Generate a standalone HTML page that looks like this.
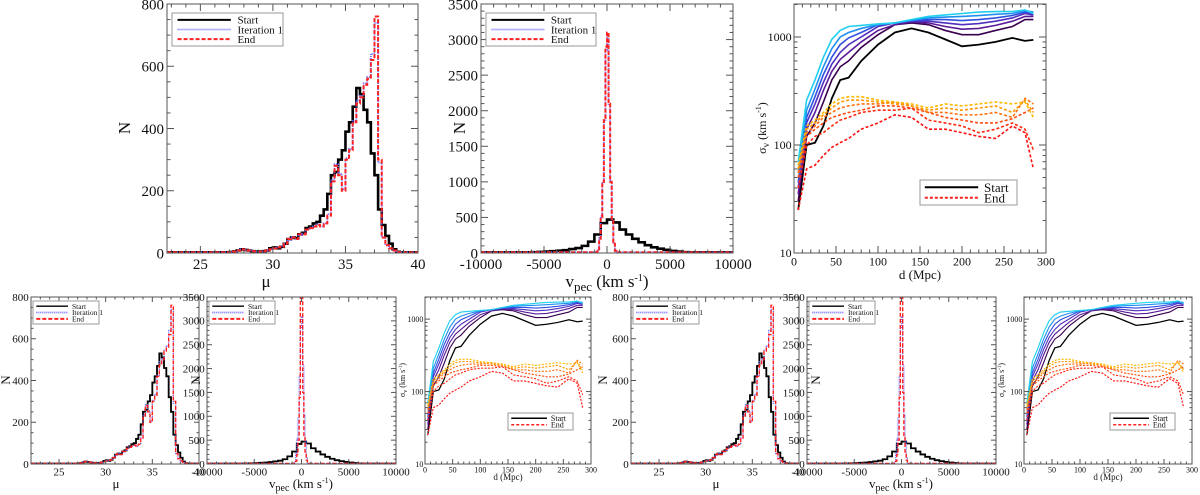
<!DOCTYPE html>
<html><head><meta charset="utf-8"><style>
body{margin:0;background:#fff}
svg{display:block;font-family:"Liberation Serif",serif}
</style></head><body>
<svg id="fig" width="1200" height="495" viewBox="0 0 1200 495"></svg>
<script>
// ---- data: mu histograms (bins of 0.25 starting at 27.0) ----
const muBinStart = 27.0;
const muBinWidth = 0.25;
const muStart = [3,5,8,12,10,8,6,5,5,6,8,15,18,15,20,30,45,50,48,60,65,80,85,95,100,120,140,190,250,260,300,330,390,420,470,530,510,460,420,320,250,140,90,55,30,12,4,0];
const muIter1 = [3,5,8,12,10,8,6,5,5,6,8,12,15,18,22,30,42,52,45,58,62,75,82,85,92,85,95,125,235,285,255,205,305,335,425,490,505,545,565,640,740,290,50,25,15,8,3,0];
const muEnd   = [3,5,8,12,10,8,6,5,5,6,8,12,15,18,20,30,45,50,45,60,60,75,80,85,90,85,95,120,230,280,250,200,300,330,420,480,500,540,560,620,760,300,50,25,15,8,3,0];
// ---- data: vpec histograms ----
const vStartBinStart = -10000;
const vStartBinWidth = 500;
const vStart = [2,3,3,4,5,6,8,10,12,15,20,25,32,40,55,70,100,160,260,420,470,430,330,260,200,150,110,80,60,45,30,20,12,8,5,4,3,2,2,1];
const vEndBinStart = -1000;
const vEndBinWidth = 125;
const vEnd   = [0,5,30,200,500,1000,1900,2900,3100,2100,1000,450,150,30,5,0];
const vIter1 = [0,6,35,210,520,980,1850,2850,3080,2080,1020,460,140,28,4,0];
const vEndB  = [0,3,10,60,200,500,1400,3600,3600,1500,600,250,80,15,3,0];
// ---- data: sigma_v vs distance ----
const dVals = [5,15,25,35,45,55,65,80,100,120,140,160,180,200,220,240,260,275,285];
const sigStart = [25,100,105,150,270,400,420,600,850,1100,1200,1100,950,820,850,900,980,920,940];
const sigIterSolid = [
 [30,120,160,250,400,530,600,800,1050,1300,1350,1300,1150,1050,1050,1150,1250,1450,1450],
 [35,140,200,320,480,620,720,900,1150,1300,1380,1350,1250,1180,1200,1280,1400,1550,1550],
 [40,160,240,380,560,720,850,1000,1250,1350,1400,1400,1350,1300,1330,1400,1500,1650,1600],
 [45,180,280,450,650,850,980,1100,1300,1350,1420,1450,1450,1420,1450,1500,1580,1700,1650],
 [55,210,330,530,780,1000,1100,1200,1300,1350,1430,1500,1530,1550,1580,1620,1650,1750,1700],
 [70,260,400,650,950,1150,1250,1280,1320,1350,1450,1550,1600,1650,1700,1720,1720,1780,1650]
];
const sigIterDashed = [
 [25,60,65,80,95,105,115,140,160,190,180,140,140,130,120,115,150,130,60],
 [40,100,120,130,150,170,180,200,210,210,220,170,160,150,130,140,160,140,90],
 [50,120,140,160,180,190,200,210,230,230,220,200,180,170,160,160,175,200,220],
 [55,130,150,180,200,220,230,240,240,250,230,200,200,190,190,200,180,270,240],
 [60,140,160,190,220,250,260,260,250,240,230,210,220,210,220,230,200,260,200],
 [65,150,170,200,240,270,280,280,260,250,240,220,240,230,240,250,240,250,180]
];
const solidColors = ['#3a0050','#5a1a9a','#5030c0','#3050e0','#2090f0','#20d0f0'];
const dashColors = ['#ff1010','#ff2a10','#ff4a10','#ff7010','#ff9800','#ffb800'];
const muTicks = [25,30,35,40];
const muYTicks = [0,200,400,600,800];
const vTicks = [-10000,-5000,0,5000,10000];
const vYTicks = [0,500,1000,1500,2000,2500,3000,3500];
const dTicks = [0,50,100,150,200,250,300];
const sYTicks = [10,100,1000];

const NS='http://www.w3.org/2000/svg';
const svg=document.getElementById('fig');
function el(tag,attrs,parent){const e=document.createElementNS(NS,tag);for(const k in attrs)e.setAttribute(k,attrs[k]);(parent||svg).appendChild(e);return e;}
let clipId=0;

function makePanel(P){
  const g=el('g',{});
  
  
  P.g=g;
  P.x=v=>P.l+(v-P.xmin)/(P.xmax-P.xmin)*(P.r-P.l);
  if(P.log){P.y=v=>P.b-(Math.log10(v)-Math.log10(P.ymin))/(Math.log10(P.ymax)-Math.log10(P.ymin))*(P.b-P.t);}
  else P.y=v=>P.b-(v-P.ymin)/(P.ymax-P.ymin)*(P.b-P.t);
  const cid='c'+(clipId++);
  const cp=el('clipPath',{id:cid},g);el('rect',{x:P.l,y:P.t,width:P.r-P.l,height:P.b-P.t},cp);
  P.data=el('g',{'clip-path':'url(#'+cid+')'},g);
  
  
  return P;
}
function frame(P){
  const g=P.g,fs=P.fs,tl=P.tick,sw=P.sw||1;
  const ax=el('g',{stroke:'#555','stroke-width':sw,fill:'none'},g);
  
  
  el('rect',{x:P.l,y:P.t,width:P.r-P.l,height:P.b-P.t},ax);
  const xm=P.xminor;let s=Math.ceil(P.xmin/xm)*xm;
  for(let v=s;v<=P.xmax+1e-9;v+=xm){const X=P.x(v);const major=Math.abs(v/P.xmajor-Math.round(v/P.xmajor))<1e-6;const L=major?tl:tl/2;
    el('line',{x1:X,y1:P.b,x2:X,y2:P.b-L},ax);el('line',{x1:X,y1:P.t,x2:X,y2:P.t+L},ax);}
  P.xt.forEach(v=>{const t=el('text',{x:P.x(v),y:P.b+fs*1.05,'font-size':fs,'text-anchor':'middle',fill:'#111'},g);t.textContent=v;
    });
  if(P.log){
    for(let dec=1;dec<=3;dec++){for(let m=1;m<10;m++){const v=m*Math.pow(10,dec);if(v<P.ymin||v>P.ymax)continue;const Y=P.y(v);const L=m==1?tl:tl/2;
      el('line',{x1:P.l,y1:Y,x2:P.l+L,y2:Y},ax);el('line',{x1:P.r,y1:Y,x2:P.r-L,y2:Y},ax);}}
  } else {
    for(let v=P.ymin;v<=P.ymax+1e-9;v+=P.yminor){const Y=P.y(v);const major=Math.abs(v/P.ymajor-Math.round(v/P.ymajor))<1e-6;const L=major?tl:tl/2;
      el('line',{x1:P.l,y1:Y,x2:P.l+L,y2:Y},ax);el('line',{x1:P.r,y1:Y,x2:P.r-L,y2:Y},ax);}
  }
  P.yt.forEach(v=>{const t=el('text',{x:P.l-fs*0.2,y:P.y(v)+fs*0.35,'font-size':fs,'text-anchor':'end',fill:'#111'},g);t.textContent=v;
    });
}
function stepHist(P,x0,w,vals,style,name){
  const floor=P.ymin+ (P.ymax-P.ymin)*0.003;
  let d=`M${P.x(P.xmin)},${P.y(floor)} H${P.x(x0)}`;
  vals.forEach((v,i)=>{d+=` V${P.y(Math.max(v,floor))} H${P.x(x0+(i+1)*w)}`;});
  d+=` V${P.y(floor)} H${P.x(P.xmax)}`;
  const p=el('path',Object.assign({d:d,fill:'none'},style),P.data);
  
  
}
function line(P,xs,ys,style,name){
  const d=xs.map((x,i)=>(i?'L':'M')+P.x(x)+','+P.y(ys[i])).join(' ');
  const p=el('path',Object.assign({d:d,fill:'none'},style),P.data);
  
  
}
function legend(P,box,entries,fs){
  const g=el('g',{},P.g);
  
  
  el('rect',{x:box[0],y:box[1],width:box[2],height:box[3],fill:'#fff',stroke:'#999','stroke-width':1},g);
  const rowH=(box[3]-4)/entries.length;
  entries.forEach((e,i)=>{const y=box[1]+2+rowH*(i+0.5);
    const ln=el('line',Object.assign({x1:box[0]+box[2]*0.05,x2:box[0]+box[2]*(e.lw||0.53),y1:y,y2:y},e.style),g);
    
    const t=el('text',{x:box[0]+box[2]*((e.lw||0.53)+0.06),y:y+fs*0.35,'font-size':fs,fill:'#111'},g);t.textContent=e.label;
    });
}
function label(txt,x,y,fs,rot,name){
  const t=el('text',{x:x,y:y,'font-size':fs,'text-anchor':'middle',fill:'#111',transform:rot?`rotate(-90 ${x} ${y})`:''});
  
  t.innerHTML=txt;
}
const sStart={stroke:'#000','stroke-width':2.6};
const sIter={stroke:'#6a6aff','stroke-width':1.8,'stroke-dasharray':'1,1'};
const sEnd={stroke:'#ff2020','stroke-width':2,'stroke-dasharray':'4,2'};

function muPanel(name,l,r,t,b,xmin,fs,tick,lbox,lfs,scale){
  const P=makePanel({name,l,r,t,b,xmin,xmax:40,ymin:0,ymax:800,fs,tick,xminor:1,xmajor:5,yminor:50,ymajor:200,xt:muTicks,yt:muYTicks});
  stepHist(P,muBinStart,muBinWidth,muStart,Object.assign({},sStart,{'stroke-width':2.6*scale}),'start-histogram');
  stepHist(P,muBinStart,muBinWidth,muIter1,Object.assign({},sIter,{'stroke-width':1.8*scale}),'iteration1-histogram');
  stepHist(P,muBinStart,muBinWidth,muEnd,Object.assign({},sEnd,{'stroke-width':2*scale}),'end-histogram');
  frame(P);
  legend(P,lbox,[{label:'Start',style:Object.assign({},sStart,{'stroke-width':2*scale})},{label:'Iteration 1',style:sIter},{label:'End',style:sEnd}],lfs);
}
function vPanel(name,l,r,t,b,fs,tick,lbox,lfs,scale,endArr){
  const P=makePanel({name,l,r,t,b,xmin:-10000,xmax:10000,ymin:0,ymax:3500,fs,tick,xminor:1000,xmajor:5000,yminor:100,ymajor:500,xt:vTicks,yt:vYTicks});
  stepHist(P,vStartBinStart,vStartBinWidth,vStart,Object.assign({},sStart,{'stroke-width':2.6*scale}),'start-histogram');
  stepHist(P,vEndBinStart,vEndBinWidth,vIter1,Object.assign({},sIter,{'stroke-width':1.8*scale}),'iteration1-histogram');
  stepHist(P,vEndBinStart,vEndBinWidth,endArr,Object.assign({},sEnd,{'stroke-width':2*scale}),'end-histogram');
  frame(P);
  legend(P,lbox,[{label:'Start',style:Object.assign({},sStart,{'stroke-width':2*scale})},{label:'Iteration 1',style:sIter},{label:'End',style:sEnd}],lfs);
}
function sPanel(name,l,r,t,b,fs,tick,lbox,lfs,scale){
  const P=makePanel({name,l,r,t,b,xmin:0,xmax:300,ymin:10,ymax:2020,log:true,fs,tick,xminor:10,xmajor:50,xt:dTicks,yt:sYTicks});
  line(P,dVals,sigStart,{stroke:'#000','stroke-width':1.8*scale},'start-curve');
  sigIterSolid.forEach((a,i)=>line(P,dVals,a,{stroke:solidColors[i],'stroke-width':1.6*scale},'iteration-curve-'+(i+1)));
  sigIterDashed.forEach((a,i)=>line(P,dVals,a,{stroke:dashColors[i],'stroke-width':1.6*scale,'stroke-dasharray':(3*scale)+','+(2*scale)},'end-curve-'+(i+1)));
  frame(P);
  legend(P,lbox,[{label:'Start',style:{stroke:'#000','stroke-width':2*scale},lw:0.6},{label:'End',style:{stroke:'#ff2020','stroke-width':2*scale,'stroke-dasharray':'3,2'},lw:0.6}],lfs);
}
// top row
muPanel('mu-histogram-top',167,418,4,253,22.7,15,7,[172,13,111,33],11,1);
vPanel('vpec-histogram-top',481,733,4,253,15,7,[486,13,110,33],11,1,vEnd);
sPanel('sigma-distance-top',794,1046,4,253,12,7,[920,180,97,25],13,1);
label('N',130,128,17,true,'y-axis-title');
label('μ',266,287,17,false,'x-axis-title');
label('N',465,128,17,true,'y-axis-title');
label('v<tspan font-size="13" dy="4">pec</tspan><tspan dy="-4"> (km s</tspan><tspan font-size="10" dy="-6">-1</tspan><tspan dy="6">)</tspan>',607,287,17,false,'x-axis-title');
label('σ<tspan font-size="9" dy="3">v</tspan><tspan dy="-3"> (km s</tspan><tspan font-size="8" dy="-5">-1</tspan><tspan dy="5">)</tspan>',766,128,12,true,'y-axis-title');
label('d (Mpc)',920,279,13,false,'x-axis-title');
// bottom row
[[0],[1]].forEach(([k])=>{
  const o=k*(631-31);
  muPanel('mu-histogram-bottom-'+(k+1),31+o,199+o,297,464,22,11,5,[33+o,301,66,23],7.5,0.7);
  vPanel('vpec-histogram-bottom-'+(k+1),207+o,396+o,297,464,11,5,[209+o,301,66,23],7.5,0.7,vEndB);
  sPanel('sigma-distance-bottom-'+(k+1),(k?1024:425),(k?1192:591),297,464,8,5,[k?1110:508,413,65,17],8,0.7);
  label('N',(k?607:10),380,13,true,'y-axis-title');
  label('μ',116+o,488,13,false,'x-axis-title');
  label('N',(k?820:200),380,13,true,'y-axis-title');
  label('v<tspan font-size="10" dy="3">pec</tspan><tspan dy="-3"> (km s</tspan><tspan font-size="8" dy="-5">-1</tspan><tspan dy="5">)</tspan>',301+o,488,13,false,'x-axis-title');
  label('σ<tspan font-size="6" dy="2">v</tspan><tspan dy="-2"> (km s</tspan><tspan font-size="5" dy="-3">-1</tspan><tspan dy="3">)</tspan>',(k?1004:405),380,8,true,'y-axis-title');
  label('d (Mpc)',(k?1108:508),480,9,false,'x-axis-title');
});
</script>
</body></html>
